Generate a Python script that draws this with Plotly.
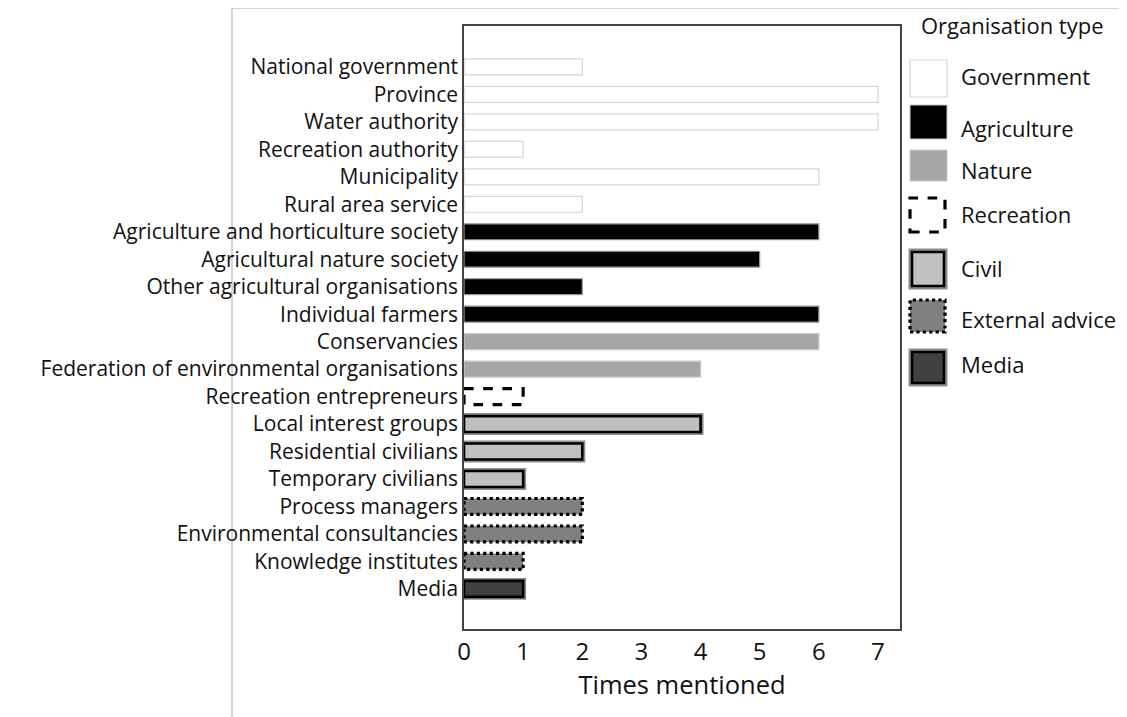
import plotly.graph_objects as go

categories = ["National government", "Province", "Water authority", "Recreation authority",
              "Municipality", "Rural area service", "Agriculture and horticulture society",
              "Agricultural nature society", "Other agricultural organisations", "Individual farmers",
              "Conservancies", "Federation of environmental organisations", "Recreation entrepreneurs",
              "Local interest groups", "Residential civilians", "Temporary civilians",
              "Process managers", "Environmental consultancies", "Knowledge institutes", "Media"]
values = [2, 7, 7, 1, 6, 2, 6, 5, 2, 6, 6, 4, 1, 4, 2, 1, 2, 2, 1, 1]
org_type = ["Government"] * 6 + ["Agriculture"] * 4 + ["Nature"] * 2 + ["Recreation"] + \
           ["Civil"] * 3 + ["External advice"] * 3 + ["Media"]
type_order = ["Government", "Agriculture", "Nature", "Recreation", "Civil", "External advice", "Media"]
x_ticks = [0, 1, 2, 3, 4, 5, 6, 7]

FONT = "Open Sans"
OFF = 8  # page body offset
W, H = 1127 - OFF, 717 - OFF
L, R, T, B = 464 - OFF, 900 - OFF, 26 - OFF, 629 - OFF
BW = 0.58
HB = BW / 2

fill = {"Government": "white", "Agriculture": "black", "Nature": "#a6a6a6", "Recreation": "white",
        "Civil": "#c0c0c0", "External advice": "#808080", "Media": "#404040"}

fig = go.Figure()


def sel(t):
    idx = [i for i, g in enumerate(org_type) if g == t]
    return idx, [values[i] for i in idx]


for t, lc in [("Government", "#d6d6d6"), ("Agriculture", "#9a9a9a"), ("Nature", "#c8c8c8")]:
    idx, v = sel(t)
    fig.add_trace(go.Bar(y=idx, x=v, orientation="h", width=BW, base=0,
                         marker=dict(color=fill[t], line=dict(color=lc, width=1.2)),
                         showlegend=False, hoverinfo="skip"))

for t in ["Civil", "Media"]:
    idx, v = sel(t)
    fig.add_trace(go.Bar(y=idx, x=v, orientation="h", width=BW, base=0,
                         marker=dict(color=fill[t], line=dict(color="#8c8c8c", width=6)),
                         showlegend=False, hoverinfo="skip"))
    fig.add_trace(go.Bar(y=idx, x=v, orientation="h", width=BW, base=0,
                         marker=dict(color=fill[t], line=dict(color="black", width=2.6)),
                         showlegend=False, hoverinfo="skip"))

for t, dash in [("Recreation", "dash"), ("External advice", "dot")]:
    idx, v = sel(t)
    fig.add_trace(go.Bar(y=idx, x=v, orientation="h", width=BW, base=0,
                         marker=dict(color=fill[t], line=dict(width=0)),
                         showlegend=False, hoverinfo="skip"))
    for i, val in zip(idx, v):
        fig.add_trace(go.Scatter(x=[0, val, val, 0, 0],
                                 y=[i - HB, i - HB, i + HB, i + HB, i - HB],
                                 mode="lines", line=dict(color="black", width=3.2, dash=dash),
                                 showlegend=False, hoverinfo="skip"))


def px(x):
    return (x - OFF - L) / (R - L)


def py(y):
    return (B - (y - OFF)) / (B - T)


shapes = []
annotations = []
shapes.append(dict(type="rect", xref="paper", yref="paper", x0=px(232), x1=px(1123),
                   y0=py(722), y1=py(8), line=dict(color="#c8c8c8", width=1.5), layer="below"))

annotations.append(dict(xref="paper", yref="paper", x=px(1012), y=py(25), text="Organisation type",
                        showarrow=False, xanchor="center", yanchor="middle",
                        font=dict(family=FONT, size=22, color="#111")))

legend_boxes = {
    "Government": (910, 60, 947, 97, 76),
    "Agriculture": (910, 105, 947, 139, 128),
    "Nature": (910, 150, 947, 181, 170),
    "Recreation": (908, 196, 947, 234, 214),
    "Civil": (909, 249, 947, 289, 268),
    "External advice": (908, 298, 947, 334, 319),
    "Media": (909, 349, 947, 386, 364),
}
for t in type_order:
    x0, y0, x1, y1, ty = legend_boxes[t]
    if t == "Government":
        shapes.append(dict(type="rect", xref="paper", yref="paper", x0=px(x0), x1=px(x1), y0=py(y1), y1=py(y0),
                           fillcolor="white", line=dict(color="#d6d6d6", width=1.2)))
    elif t in ("Agriculture", "Nature"):
        shapes.append(dict(type="rect", xref="paper", yref="paper", x0=px(x0), x1=px(x1), y0=py(y1), y1=py(y0),
                           fillcolor=fill[t], line=dict(color="#c8c8c8", width=1)))
    elif t == "Recreation":
        shapes.append(dict(type="rect", xref="paper", yref="paper", x0=px(x0 + 2), x1=px(x1 - 2),
                           y0=py(y1 - 2), y1=py(y0 + 2),
                           fillcolor="white", line=dict(color="black", width=3.2, dash="dash")))
    elif t == "External advice":
        shapes.append(dict(type="rect", xref="paper", yref="paper", x0=px(x0 + 2), x1=px(x1 - 2),
                           y0=py(y1 - 2), y1=py(y0 + 2),
                           fillcolor=fill[t], line=dict(color="black", width=3.2, dash="dot")))
    else:
        shapes.append(dict(type="rect", xref="paper", yref="paper", x0=px(x0), x1=px(x1), y0=py(y1), y1=py(y0),
                           fillcolor="#8c8c8c", line=dict(color="#8c8c8c", width=1)))
        shapes.append(dict(type="rect", xref="paper", yref="paper", x0=px(x0 + 3), x1=px(x1 - 3),
                           y0=py(y1 - 3), y1=py(y0 + 3),
                           fillcolor=fill[t], line=dict(color="black", width=2.6)))
    annotations.append(dict(xref="paper", yref="paper", x=px(959), y=py(ty), text=t,
                            showarrow=False, xanchor="left", yanchor="middle",
                            font=dict(family=FONT, size=22, color="#111")))

fig.update_layout(
    width=W, height=H,
    margin=dict(l=L, r=W - R, t=T, b=H - B, pad=0, autoexpand=False),
    paper_bgcolor="white", plot_bgcolor="white",
    barmode="overlay",
    shapes=shapes, annotations=annotations,
    showlegend=False,
    font=dict(family=FONT, color="#111"),
)
fig.update_xaxes(range=[0, (R - L) / 59.14], tickvals=x_ticks, ticks="", showgrid=False, zeroline=False,
                 showline=True, mirror=True, linecolor="#444", linewidth=1.5, automargin=False,
                 tickfont=dict(family=FONT, size=24, color="#111"),
                 title=dict(text="Times mentioned", font=dict(family=FONT, size=25.5, color="#111"), standoff=10))
fig.update_yaxes(range=[len(categories) - 1 + 1.46, -1.49], tickvals=list(range(len(categories))),
                 ticktext=categories, ticks="", showgrid=False, zeroline=False,
                 showline=True, mirror=True, linecolor="#444", linewidth=1.5, automargin=False,
                 tickfont=dict(family=FONT, size=21, color="#111"), ticklabelstandoff=0)

fig.write_html("out.html")
